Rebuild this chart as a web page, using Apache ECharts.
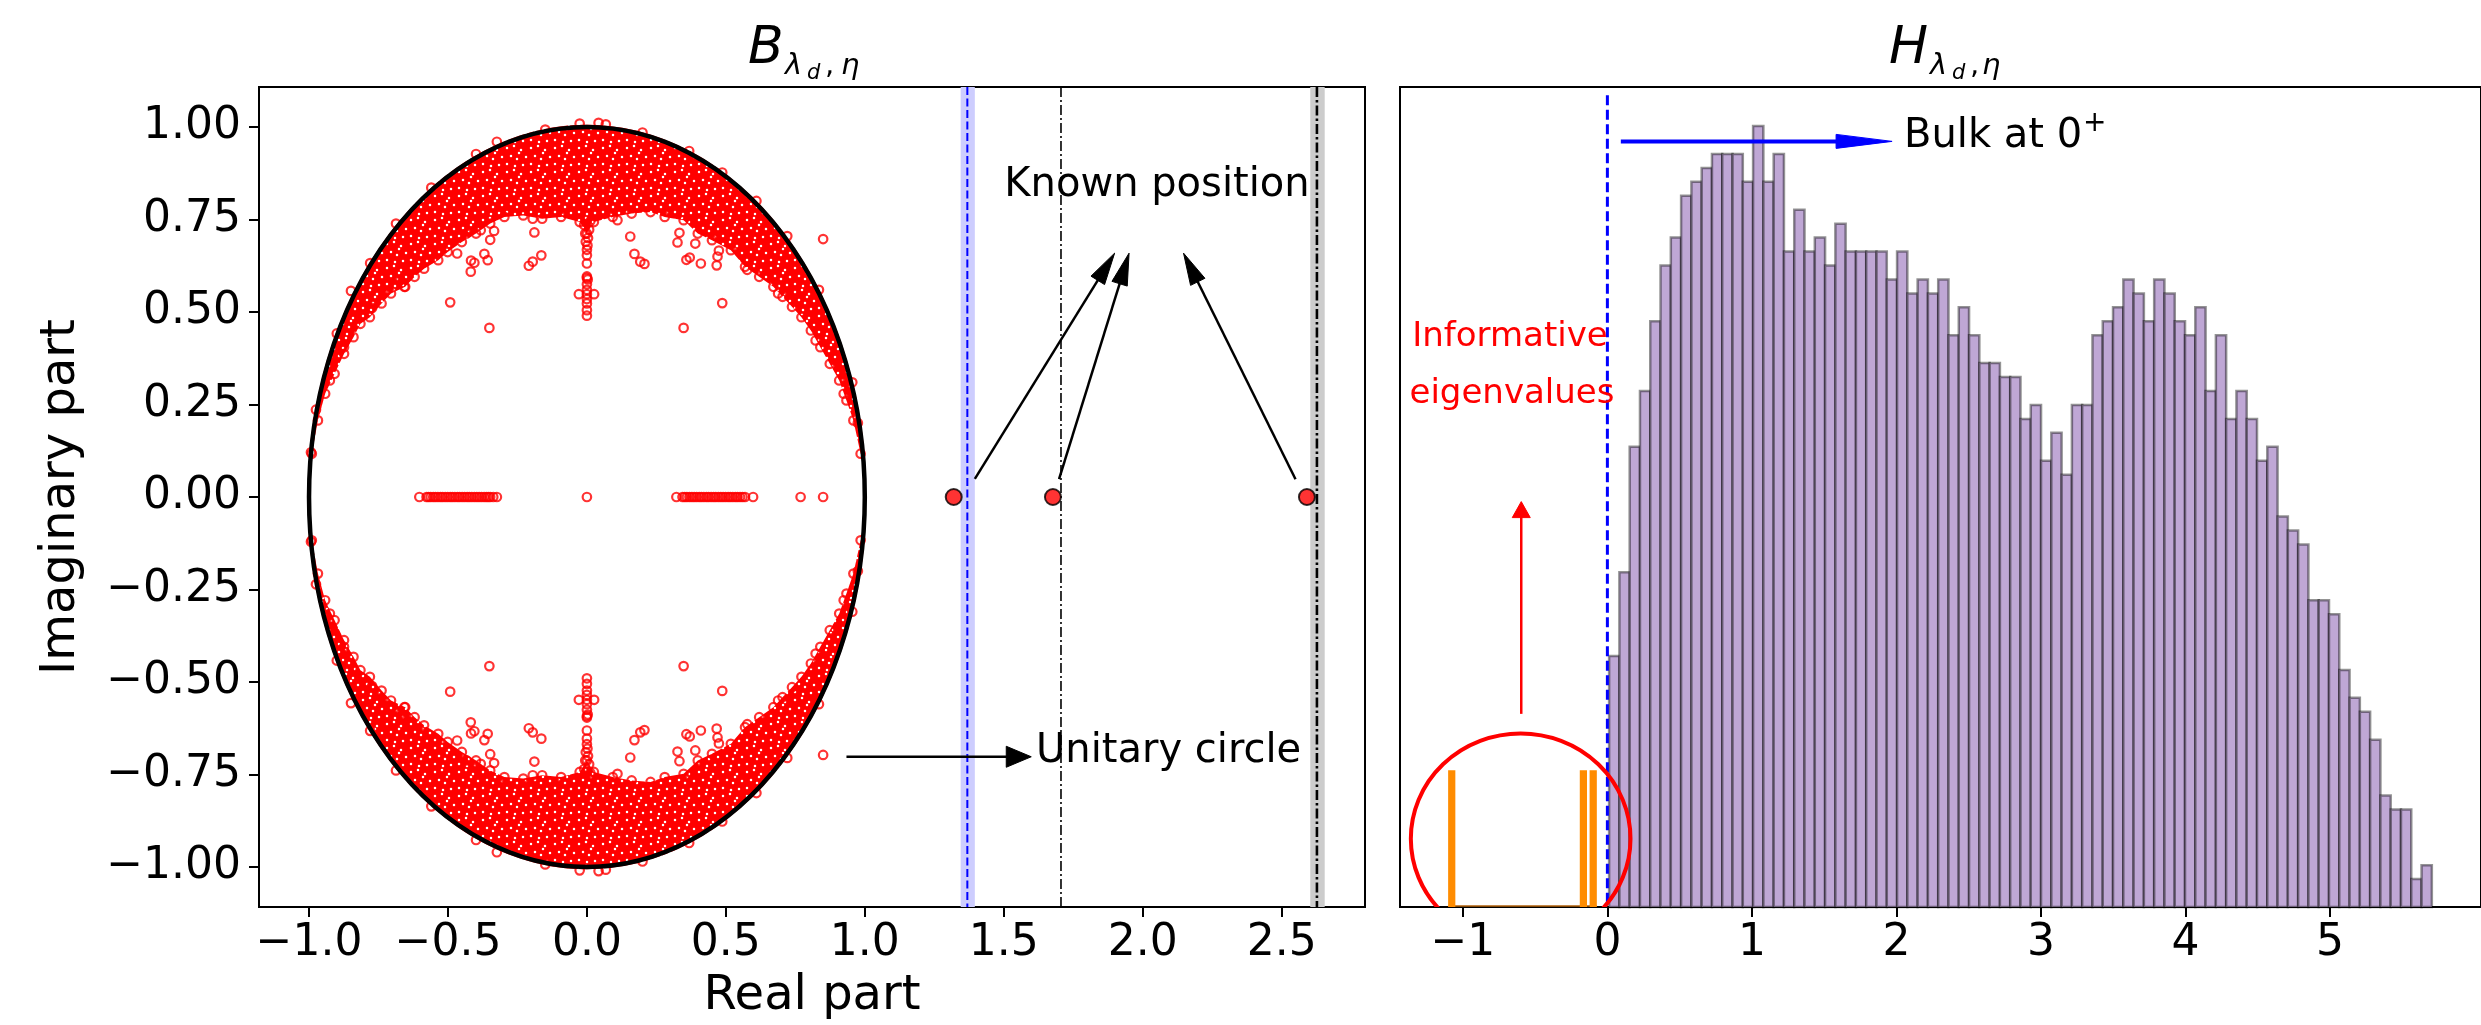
<!DOCTYPE html>
<html><head><meta charset="utf-8">
<script src="https://cdn.jsdelivr.net/npm/echarts@6/dist/echarts.min.js"></script>
<style>html,body{margin:0;padding:0;background:#fff}#c{width:2481px;height:1025px}</style>
</head><body><div id="c"></div>
<script>
// ================= DATA =================
const leftXTicks = [-1.0,-0.5,0.0,0.5,1.0,1.5,2.0,2.5];
const leftXTickLabels = ['−1.0','−0.5','0.0','0.5','1.0','1.5','2.0','2.5'];
const leftYTicks = [-1.0,-0.75,-0.5,-0.25,0,0.25,0.5,0.75,1.0];
const leftYTickLabels = ['−1.00','−0.75','−0.50','−0.25','0.00','0.25','0.50','0.75','1.00'];
const rightXTicks = [-1,0,1,2,3,4,5];
const rightXTickLabels = ['−1','0','1','2','3','4','5'];

// inner edge of the dense eigenvalue cloud (upper half; lower half = complex conjugates)
const cloudInnerUpper = [
 [-0.990,0.117],[-0.968,0.207],[-0.942,0.279],[-0.908,0.333],[-0.874,0.387],[-0.840,0.432],
 [-0.815,0.468],[-0.781,0.486],[-0.739,0.523],[-0.705,0.550],[-0.654,0.568],[-0.620,0.595],
 [-0.586,0.617],[-0.535,0.640],[-0.501,0.662],[-0.450,0.689],[-0.399,0.712],[-0.348,0.739],
 [-0.297,0.757],[-0.229,0.761],[-0.161,0.752],[-0.093,0.757],[-0.026,0.743],[0.000,0.712],
 [0.025,0.743],[0.093,0.757],[0.161,0.766],[0.229,0.770],[0.280,0.757],[0.348,0.748],
 [0.399,0.712],[0.450,0.694],[0.518,0.667],[0.569,0.622],[0.620,0.595],[0.671,0.568],
 [0.704,0.541],[0.738,0.514],[0.772,0.486],[0.806,0.450],[0.840,0.405],[0.874,0.360],
 [0.908,0.315],[0.934,0.261],[0.959,0.207],[0.985,0.117]
];
// individually visible complex eigenvalues (upper half; conjugates mirrored)
const isolatedUpper = [
 [0.850,0.697],[-0.492,0.526],[0.487,0.524],[-0.351,0.457],[0.348,0.457],
 [-0.418,0.609],[-0.209,0.625],[-0.195,0.636],[-0.164,0.653],[-0.189,0.715],
 [-0.369,0.657],[-0.357,0.640],[-0.417,0.639],[-0.405,0.633],[-0.348,0.695],[-0.334,0.719],
 [0.156,0.704],[0.171,0.657],[0.192,0.636],[0.207,0.630],[0.326,0.688],[0.333,0.714],
 [0.358,0.641],[0.370,0.647],[0.410,0.631],[0.467,0.626],[0.470,0.650],[0.475,0.666],
 [-0.657,0.568],[-0.849,0.557],
 [0.012,0.745],[-0.010,0.735],[0.008,0.722],[-0.006,0.712],[0.004,0.700],[-0.004,0.690],
 [0.002,0.680],[0.000,0.668],[0.000,0.653],[0.000,0.631],[0.000,0.596],[0.000,0.592],
 [0.003,0.588],[0.000,0.575],[0.000,0.560],[0.000,0.548],[-0.029,0.548],[0.026,0.548],
 [0.000,0.535],[0.000,0.523],[0.000,0.505],[0.000,0.490],
 [0.042,1.011],[-0.026,1.009],[0.068,1.007],[-0.324,0.960],[-0.399,0.927],[0.368,0.935],
 [0.487,0.877],[0.721,0.705],[-0.687,0.739],[-0.993,0.121],
 [-0.467,0.658],[-0.433,0.712],[-0.382,0.721],[-0.671,0.586],[-0.773,0.511],[-0.874,0.405],
 [-0.925,0.315],[0.390,0.685],[0.577,0.614],[0.688,0.550],[0.823,0.423],[0.924,0.279],
 [0.110,0.748],[-0.195,0.752],
 [-0.560,0.836],[-0.780,0.632],[0.610,0.800],[0.835,0.560],[-0.900,0.442],[0.955,0.310],
 [-0.150,0.993],[0.200,0.985],[-0.975,0.236],[0.975,0.200]
];
// real eigenvalues inside the unit circle
const realEigs = [
 -0.603,-0.577,-0.570,-0.562,-0.553,-0.545,-0.536,-0.527,-0.519,-0.510,-0.501,-0.492,
 -0.484,-0.475,-0.466,-0.458,-0.449,-0.440,-0.431,-0.423,-0.414,-0.405,-0.396,-0.388,
 -0.379,-0.370,-0.362,-0.355,-0.348,-0.337,-0.324,
 0.000,
 0.322,0.344,0.352,0.360,0.369,0.378,0.386,0.395,0.404,0.412,0.421,0.430,0.438,0.447,
 0.456,0.464,0.473,0.482,0.490,0.499,0.508,0.516,0.525,0.534,0.542,0.551,0.560,0.569,
 0.598,0.769,0.850
];
// isolated real eigenvalues outside the bulk
const outlierEigs = [1.320, 1.677, 2.591];
// known positions
const blueBand = [1.345, 1.396];
const blueLineX = [1.369];
const grayBand = [2.603, 2.655];
const dashDotThinX = [1.706];
const dashDotThickX = [2.627];
// annotation arrows [x1,y1,x2,y2] in data units
const knownArrows = [[1.396,0.049,1.899,0.659],[1.699,0.048,1.951,0.659],[2.550,0.048,2.147,0.659]];
const unitArrow = [[0.934,-0.702,1.599,-0.702]];

// histogram of H (bulk)
const histStart = 0.012;
const histBinWidth = 0.07116;
const histCounts = [18,24,33,37,42,46,48,51,52,53,54,54,54,52,56,52,54,47,50,47,
 48,46,49,47,47,47,47,45,47,44,45,44,45,41,43,41,39,39,38,38,
 35,36,32,34,31,36,36,41,42,43,45,44,42,45,44,42,41,43,37,41,
 35,37,35,32,33,28,27,26,22,22,21,17,15,14,12,8,7,7,2,3];
// informative eigenvalues (orange)
const infoX = [-1.077, -0.166, -0.098];
const infoH = [9.8, 9.8, 9.8];
const infoBarWidth = 0.05;
const infoRange = [-1.10, -0.074];
const bulkLineX = [0];
const bulkLineTop = 58.2;
const bulkArrow = [[0.093,54.9,1.97,54.9]];
const infoArrow = [[-0.596,13.85,-0.596,29.07]];
const infoEllipse = [[-0.60, 4.9, 0.76, 7.54]]; // cx, cy, rx, ry

// ================= CHART =================
const FONT = 'DejaVu Sans';
const chart = echarts.init(document.getElementById('c'), null, {renderer:'canvas'});

function makeSpeckle(){
  const n=24, c=document.createElement('canvas'); c.width=n; c.height=n;
  const g=c.getContext('2d'); g.fillStyle='#ff0000'; g.fillRect(0,0,n,n);
  g.fillStyle='#ffffff';
  const dots=[[3,4],[10,2],[17,6],[22,13],[7,12],[13,15],[19,21],[3,20],[11,22],[15,9]];
  dots.forEach(p=>{ g.beginPath(); g.arc(p[0],p[1],1.25,0,Math.PI*2); g.fill(); });
  return c;
}
const speckle = {image: makeSpeckle(), repeat:'repeat'};

function labelFrom(ticks, labels){
  return v => { for (let i=0;i<ticks.length;i++) if (Math.abs(ticks[i]-v)<1e-9) return labels[i]; return ''; };
}

function arrowEls(p1,p2,headLen,headHalf,lw,color){
  const dx=p2[0]-p1[0], dy=p2[1]-p1[1]; const L=Math.hypot(dx,dy);
  const ux=dx/L, uy=dy/L, nx=-uy, ny=ux;
  const bx=p2[0]-ux*headLen, by=p2[1]-uy*headLen;
  return [
    {type:'line', shape:{x1:p1[0],y1:p1[1],x2:bx+ux*2,y2:by+uy*2}, style:{stroke:color,lineWidth:lw,fill:null}},
    {type:'polygon', shape:{points:[[p2[0],p2[1]],[bx+nx*headHalf,by+ny*headHalf],[bx-nx*headHalf,by-ny*headHalf]]}, style:{fill:color,stroke:color,lineWidth:1}}
  ];
}
function arrowSeries(data, xi, headLen, headHalf, lw, color, z){
  return {type:'custom', xAxisIndex:xi, yAxisIndex:xi, z:z||10, silent:true, data:data,
    renderItem:(params, api)=>{
      const p1=api.coord([api.value(0),api.value(1)]), p2=api.coord([api.value(2),api.value(3)]);
      return {type:'group', children: arrowEls(p1,p2,headLen,headHalf,lw,color)};
    }};
}
function bandSeries(range, color){
  return {type:'custom', xAxisIndex:0, yAxisIndex:0, z:1, silent:true, data:[range],
    renderItem:(params, api)=>{
      const cs=params.coordSys;
      const a=api.coord([api.value(0),0])[0], b=api.coord([api.value(1),0])[0];
      return {type:'rect', shape:{x:a,y:cs.y,width:b-a,height:cs.height}, style:{fill:color}};
    }};
}
function vlineSeries(xs, xi, color, lw, dash, z, yTop){
  return {type:'custom', xAxisIndex:xi, yAxisIndex:xi, z:z||3, silent:true, data:xs.map(x=>[x]),
    renderItem:(params, api)=>{
      const cs=params.coordSys; const x=api.coord([api.value(0),0])[0];
      const y1 = yTop!==undefined ? api.coord([0,yTop])[1] : cs.y;
      return {type:'line', shape:{x1:x,y1:y1,x2:x,y2:cs.y+cs.height}, style:{stroke:color,lineWidth:lw,lineDash:dash,fill:null}};
    }};
}

const allIsolated = isolatedUpper.concat(isolatedUpper.map(p=>[p[0],-p[1]]));
const realPts = realEigs.map(x=>[x,0]);
const edgePts = cloudInnerUpper.concat(cloudInnerUpper.map(p=>[p[0],-p[1]]));

const axisTickStyle = {show:true, length:10, lineStyle:{color:'#000', width:2}};
const tickFont = {fontFamily:FONT, fontSize:44, color:'#000'};

function mathTitle(letter, cx, offs){
  // offs: [letterX, lambdaX, dX, commaX, etaX] relative to cx
  return {type:'group', children:[
    {type:'text', x:cx+offs[0], y:49, style:{text:letter, font:'italic 52px "DejaVu Sans"', fill:'#000', verticalAlign:'middle', align:'left'}},
    {type:'text', x:cx+offs[1], y:66, style:{text:'λ', font:'italic 29px "DejaVu Sans"', fill:'#000', verticalAlign:'middle', align:'left'}},
    {type:'text', x:cx+offs[2], y:74, style:{text:'d', font:'italic 21px "DejaVu Sans"', fill:'#000', verticalAlign:'middle', align:'left'}},
    {type:'text', x:cx+offs[3], y:66, style:{text:',', font:'29px "DejaVu Sans"', fill:'#000', verticalAlign:'middle', align:'left'}},
    {type:'text', x:cx+offs[4], y:66, style:{text:'η', font:'italic 29px "DejaVu Sans"', fill:'#000', verticalAlign:'middle', align:'left'}}
  ]};
}

const option = {
  animation:false,
  backgroundColor:'#fff',
  grid:[
    {left:259, top:87, width:1106, height:820, show:true, borderColor:'#000', borderWidth:2, backgroundColor:'transparent'},
    {left:1400, top:87, width:1105, height:820, show:true, borderColor:'#000', borderWidth:2, backgroundColor:'transparent'}
  ],
  xAxis:[
    {type:'value', gridIndex:0, min:-1.18, max:2.80, axisLine:{show:false, onZero:false}, splitLine:{show:false},
     axisTick:Object.assign({customValues:leftXTicks}, axisTickStyle),
     axisLabel:Object.assign({customValues:leftXTicks, margin:15, formatter:labelFrom(leftXTicks,leftXTickLabels)}, tickFont)},
    {type:'value', gridIndex:1, min:-1.435, max:6.045, axisLine:{show:false, onZero:false}, splitLine:{show:false},
     axisTick:Object.assign({customValues:rightXTicks}, axisTickStyle),
     axisLabel:Object.assign({customValues:rightXTicks, margin:15, formatter:labelFrom(rightXTicks,rightXTickLabels)}, tickFont)}
  ],
  yAxis:[
    {type:'value', gridIndex:0, min:-1.108, max:1.108, axisLine:{show:false, onZero:false}, splitLine:{show:false},
     axisTick:Object.assign({customValues:leftYTicks}, axisTickStyle),
     axisLabel:Object.assign({customValues:leftYTicks, margin:18, formatter:labelFrom(leftYTicks,leftYTickLabels)}, tickFont)},
    {type:'value', gridIndex:1, min:0, max:58.8, axisLine:{show:false}, splitLine:{show:false}, axisTick:{show:false}, axisLabel:{show:false}}
  ],
  graphic:[
    mathTitle('B', 811, [-63,-26,-4,14,30]),
    mathTitle('H', 1952, [-63,-22,0,18,30]),
    {type:'text', x:812, y:997, style:{text:'Real part', font:'48px "DejaVu Sans"', fill:'#000', align:'center', verticalAlign:'middle'}},
    {type:'text', x:62, y:497, rotation:Math.PI/2, style:{text:'Imaginary part', font:'48px "DejaVu Sans"', fill:'#000', align:'center', verticalAlign:'middle'}},
    {type:'text', x:1157, y:186, z:100, style:{text:'Known position', font:'40px "DejaVu Sans"', fill:'#000', align:'center', verticalAlign:'middle'}},
    {type:'text', x:1036, y:752, z:100, style:{text:'Unitary circle', font:'40px "DejaVu Sans"', fill:'#000', align:'left', verticalAlign:'middle'}},
    {type:'text', x:1904, y:137, z:100, style:{text:'Bulk at 0', font:'40px "DejaVu Sans"', fill:'#000', align:'left', verticalAlign:'middle'}},
    {type:'text', x:2083, y:124, z:100, style:{text:'+', font:'28px "DejaVu Sans"', fill:'#000', align:'left', verticalAlign:'middle'}},
    {type:'text', x:1510, y:337, z:100, style:{text:'Informative', font:'34px "DejaVu Sans"', fill:'#ff0000', align:'center', verticalAlign:'middle'}},
    {type:'text', x:1512, y:394, z:100, style:{text:'eigenvalues', font:'34px "DejaVu Sans"', fill:'#ff0000', align:'center', verticalAlign:'middle'}}
  ],
  series:[
    // ---- left panel ----
    bandSeries(blueBand, '#cdcdfe'),
    bandSeries(grayBand, '#cccccc'),
    vlineSeries(blueLineX, 0, '#0000ff', 2, [8,3.5], 3),
    vlineSeries(dashDotThinX, 0, '#000', 1.6, [10,3,2,3], 3),
    vlineSeries(dashDotThickX, 0, '#000', 2.6, [10,3,2.5,3], 3),
    {type:'custom', xAxisIndex:0, yAxisIndex:0, z:4, silent:true, data:[[0,1],[0,-1]],
     renderItem:(params, api)=>{
       const s=api.value(1), R=1.006;
       const pts=cloudInnerUpper.map(p=>api.coord([p[0], s*p[1]]));
       const rim=p=>{ const r=Math.hypot(p[0],p[1]); return api.coord([p[0]/r*R, s*p[1]/r*R]); };
       const a=rim(cloudInnerUpper[cloudInnerUpper.length-1]), b=rim(cloudInnerUpper[0]);
       const c=api.coord([0,0]), px=api.coord([R,0]), py=api.coord([0,R]);
       const rx=px[0]-c[0], ry=c[1]-py[1];
       let d='M '+pts[0][0]+' '+pts[0][1];
       for(let i=1;i<pts.length;i++) d+=' L '+pts[i][0]+' '+pts[i][1];
       d+=' L '+a[0]+' '+a[1]+' A '+rx+' '+ry+' 0 0 '+(s>0?0:1)+' '+b[0]+' '+b[1]+' Z';
       return {type:'path', shape:{pathData:d}, style:{fill:speckle, stroke:null}};
     }},
    {type:'scatter', xAxisIndex:0, yAxisIndex:0, z:5, silent:true, symbol:'circle', symbolSize:8.5,
     itemStyle:{color:'rgba(0,0,0,0)', borderColor:'#ff0000', borderWidth:2.2},
     data: allIsolated.concat(realPts, edgePts)},
    {type:'custom', xAxisIndex:0, yAxisIndex:0, z:6, silent:true, data:[[0,0,1]],
     renderItem:(params, api)=>{
       const c=api.coord([api.value(0),api.value(1)]), r=api.value(2);
       const px=api.coord([r,0]), py=api.coord([0,r]);
       const rx=px[0]-c[0], ry=c[1]-py[1];
       const d='M '+(c[0]-rx)+' '+c[1]+' A '+rx+' '+ry+' 0 1 0 '+(c[0]+rx)+' '+c[1]+' A '+rx+' '+ry+' 0 1 0 '+(c[0]-rx)+' '+c[1]+' Z';
       return {type:'path', shape:{pathData:d}, style:{fill:null, stroke:'#000', lineWidth:4.5}};
     }},
    {type:'scatter', xAxisIndex:0, yAxisIndex:0, z:7, silent:true, symbol:'circle', symbolSize:16,
     itemStyle:{color:'#ff0000', borderColor:'#000', borderWidth:2},
     data: outlierEigs.map(x=>[x,0])},
    arrowSeries(knownArrows, 0, 32, 8, 2.5, '#000', 8),
    arrowSeries(unitArrow, 0, 25, 10.5, 2.7, '#000', 8),
    // ---- right panel ----
    {type:'custom', xAxisIndex:1, yAxisIndex:1, z:2, silent:true,
     data: histCounts.map((h,i)=>[histStart+i*histBinWidth, h]),
     renderItem:(params, api)=>{
       const x0=api.value(0), h=api.value(1);
       const p0=api.coord([x0,0]), p1=api.coord([x0+histBinWidth,h]);
       return {type:'rect', shape:{x:p0[0],y:p1[1],width:p1[0]-p0[0],height:p0[1]-p1[1]},
               style:{fill:'#bfa7d5', stroke:'rgba(0,0,0,0.42)', lineWidth:2.5}};
     }},
    {type:'custom', xAxisIndex:1, yAxisIndex:1, z:2, silent:true, data:[infoRange],
     renderItem:(params, api)=>{
       const a=api.coord([api.value(0),0]), b=api.coord([api.value(1),0]);
       return {type:'line', shape:{x1:a[0],y1:a[1]-1,x2:b[0],y2:b[1]-1}, style:{stroke:'#b0600a',lineWidth:1.5}};
     }},
    {type:'custom', xAxisIndex:1, yAxisIndex:1, z:2, silent:true,
     data: infoX.map((x,i)=>[x, infoH[i]]),
     renderItem:(params, api)=>{
       const x=api.value(0), h=api.value(1);
       const p0=api.coord([x-infoBarWidth/2,0]), p1=api.coord([x+infoBarWidth/2,h]);
       return {type:'rect', shape:{x:p0[0],y:p1[1],width:p1[0]-p0[0],height:p0[1]-p1[1]}, style:{fill:'#ff8c00'}};
     }},
    vlineSeries(bulkLineX, 1, '#0000ff', 3, [10,4.5], 4, bulkLineTop),
    {type:'custom', xAxisIndex:1, yAxisIndex:1, z:5, silent:true, clip:true, data:infoEllipse,
     renderItem:(params, api)=>{
       const c=api.coord([api.value(0),api.value(1)]);
       const px=api.coord([api.value(0)+api.value(2),api.value(1)]), py=api.coord([api.value(0),api.value(1)+api.value(3)]);
       const rx=px[0]-c[0], ry=c[1]-py[1];
       const d='M '+(c[0]-rx)+' '+c[1]+' A '+rx+' '+ry+' 0 1 0 '+(c[0]+rx)+' '+c[1]+' A '+rx+' '+ry+' 0 1 0 '+(c[0]-rx)+' '+c[1]+' Z';
       return {type:'path', shape:{pathData:d}, style:{fill:null, stroke:'#ff0000', lineWidth:4}};
     }},
    arrowSeries(bulkArrow, 1, 56, 7, 4, '#0000ff', 8),
    arrowSeries(infoArrow, 1, 16, 9, 2.5, '#ff0000', 8)
  ]
};
chart.setOption(option);
</script></body></html>
